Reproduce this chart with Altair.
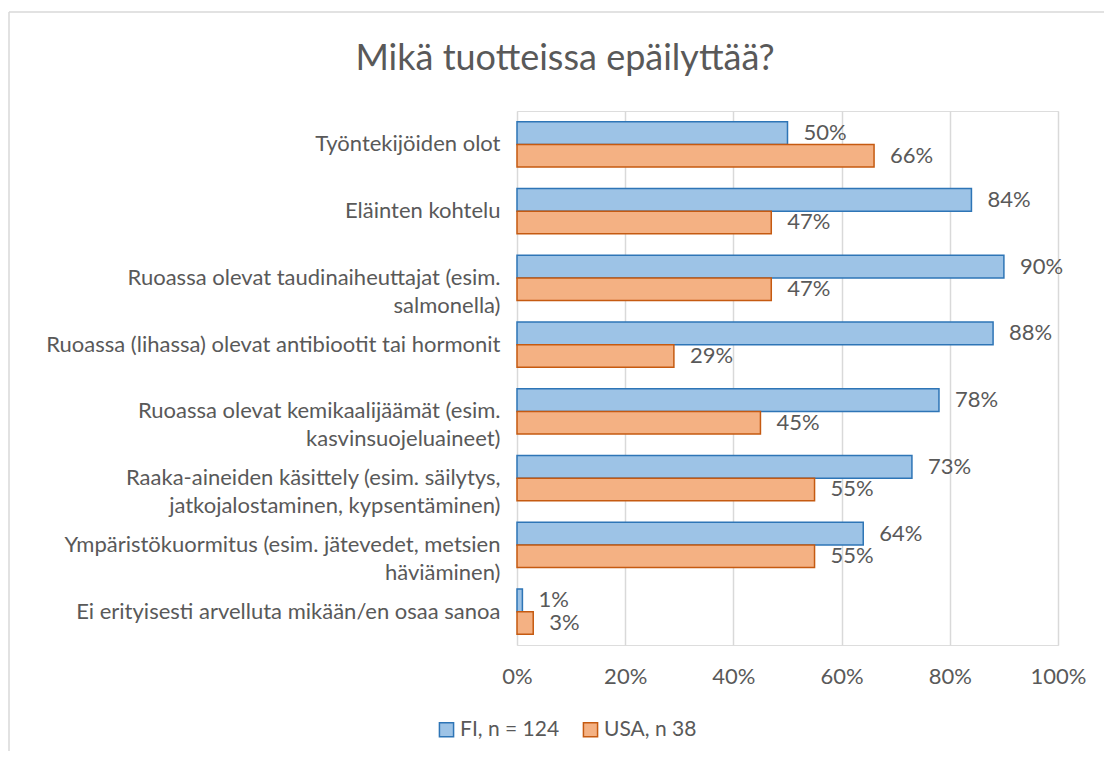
import altair as alt
import pandas as pd

categories = [
    "Työntekijöiden olot",
    "Eläinten kohtelu",
    "Ruoassa olevat taudinaiheuttajat (esim.|salmonella)",
    "Ruoassa (lihassa) olevat antibiootit tai hormonit",
    "Ruoassa olevat kemikaalijäämät (esim.|kasvinsuojeluaineet)",
    "Raaka-aineiden käsittely (esim. säilytys,|jatkojalostaminen, kypsentäminen)",
    "Ympäristökuormitus (esim. jätevedet, metsien|häviäminen)",
    "Ei erityisesti arvelluta mikään/en osaa sanoa",
]
fi_values = [50, 84, 90, 88, 78, 73, 64, 1]
usa_values = [66, 47, 47, 29, 45, 55, 55, 3]
series_names = ["FI, n = 124", "USA, n 38"]
fill_colors = ["#9DC3E6", "#F4B183"]
stroke_colors = ["#2E75B6", "#C55A11"]
x_ticks = [0, 0.2, 0.4, 0.6, 0.8, 1.0]
title_text = "Mikä tuotteissa epäilyttää?"

rows = []
for c, f, u in zip(categories, fi_values, usa_values):
    rows.append({"cat": c, "series": series_names[0], "value": f / 100})
    rows.append({"cat": c, "series": series_names[1], "value": u / 100})
df = pd.DataFrame(rows)

FONT = "Lato"
GRAY = "#595959"
FS = 22

PAD_L, PAD_T, PAD_R, PAD_B = 509, 103, 46, 106
W, H = 541, 534

y_enc = alt.Y(
    "cat:N",
    sort=categories,
    scale=alt.Scale(paddingInner=0.32, paddingOuter=0.16),
    axis=alt.Axis(
        title=None,
        labelExpr="split(datum.value, '|')",
        ticks=False,
        domain=False,
        labelPadding=17,
        labelFontSize=FS,
        labelFont=FONT,
        labelColor=GRAY,
        labelLineHeight=28,
        labelLimit=700,
    ),
)
yoff_enc = alt.YOffset("series:N", sort=series_names, scale=alt.Scale(paddingInner=0))
x_enc = alt.X(
    "value:Q",
    scale=alt.Scale(domain=[0, 1]),
    axis=alt.Axis(
        title=None,
        format=".0%",
        values=x_ticks,
        grid=True,
        gridColor="#D9D9D9",
        gridWidth=1.5,
        domain=False,
        ticks=False,
        labelFlush=False,
        labelPadding=21,
        labelFontSize=FS,
        labelFont=FONT,
        labelColor=GRAY,
    ),
)

base = alt.Chart(df)

bars = base.mark_bar(strokeWidth=1.5).encode(
    x=x_enc,
    y=y_enc,
    yOffset=yoff_enc,
    color=alt.Color(
        "series:N",
        sort=series_names,
        scale=alt.Scale(domain=series_names, range=fill_colors),
        legend=alt.Legend(
            title=None,
            orient="none",
            legendX=-81,
            legendY=608,
            direction="horizontal",
            symbolType="square",
            symbolSize=200,
            symbolStrokeWidth=1.5,
            labelFontSize=21,
            labelFont=FONT,
            labelColor=GRAY,
            columnPadding=20,
            labelOffset=3,
        ),
    ),
    stroke=alt.Stroke(
        "series:N",
        sort=series_names,
        scale=alt.Scale(domain=series_names, range=stroke_colors),
        legend=None,
    ),
)

labels = base.mark_text(
    align="left", baseline="middle", dx=16, fontSize=FS, font=FONT, color=GRAY
).encode(
    x=alt.X("value:Q"),
    y=alt.Y("cat:N", sort=categories),
    yOffset=alt.YOffset("series:N", sort=series_names),
    text=alt.Text("value:Q", format=".0%"),
)

one = alt.Chart(pd.DataFrame({"a": [0]}))

frame_top = one.mark_rule(stroke="#D9D9D9", strokeWidth=1.5, clip=False).encode(
    x=alt.value(-PAD_L + 1), x2=alt.value(W + PAD_R), y=alt.value(-99)
)
frame_left = one.mark_rule(stroke="#D9D9D9", strokeWidth=1.5, clip=False).encode(
    x=alt.value(-PAD_L + 1), y=alt.value(-99), y2=alt.value(H + PAD_B)
)

title = one.mark_text(
    text=title_text,
    fontSize=36,
    font=FONT,
    color=GRAY,
    align="center",
    baseline="alphabetic",
).encode(x=alt.value(48), y=alt.value(-41))

chart = (
    alt.layer(frame_top, frame_left, bars, labels, title)
    .properties(
        width=W,
        height=H,
        padding={"left": PAD_L, "top": PAD_T, "right": PAD_R, "bottom": PAD_B},
        autosize=alt.AutoSizeParams(type="none"),
    )
    .configure_view(stroke=None)
    .configure(background="white")
)

chart.save("out.html", embed_options={"renderer": "svg", "actions": False})
